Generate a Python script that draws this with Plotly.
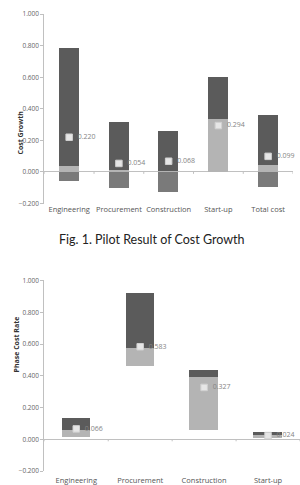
import plotly.graph_objects as go

# ---- Chart 1: Cost Growth ----
cats1 = ["Engineering", "Procurement", "Construction", "Start-up", "Total cost"]
low1 = [-0.060, -0.104, -0.127, 0.000, -0.097]
mid1 = [0.037, 0.012, 0.006, 0.335, 0.041]
high1 = [0.784, 0.317, 0.258, 0.600, 0.358]
mean1 = [0.220, 0.054, 0.068, 0.294, 0.099]

# ---- Chart 2: Phase Cost Rate ----
cats2 = ["Engineering", "Procurement", "Construction", "Start-up"]
low2 = [0.010, 0.461, 0.056, 0.010]
mid2 = [0.053, 0.570, 0.389, 0.022]
high2 = [0.131, 0.920, 0.436, 0.045]
mean2 = [0.066, 0.583, 0.327, 0.024]

yticks = [-0.2, 0.0, 0.2, 0.4, 0.6, 0.8, 1.0]

DARK = "#5b5b5b"
LIGHT = "#b4b4b4"
NEG = "#7a7a7a"
AXIS = "#c0c0c0"
FONT = "Open Sans"

W, H = 300, 485

fig = go.Figure()

def add_chart(cats, low, mid, high, mean, xa, ya, width, neg_mode):
    xs = list(range(len(cats)))
    if neg_mode:
        # below zero part
        fig.add_trace(go.Bar(x=xs, y=[min(l, 0) * -1 for l in low], base=[min(l, 0) for l in low],
                             marker=dict(color=NEG, line=dict(width=0)), width=width,
                             xaxis=xa, yaxis=ya, showlegend=False, hoverinfo="skip"))
        lb = [0.0] * len(cats)
    else:
        lb = low
    fig.add_trace(go.Bar(x=xs, y=[m - b for m, b in zip(mid, lb)], base=lb,
                         marker=dict(color=LIGHT, line=dict(width=0)), width=width,
                         xaxis=xa, yaxis=ya, showlegend=False, hoverinfo="skip"))
    fig.add_trace(go.Bar(x=xs, y=[h - m for h, m in zip(high, mid)], base=mid,
                         marker=dict(color=DARK, line=dict(width=0)), width=width,
                         xaxis=xa, yaxis=ya, showlegend=False, hoverinfo="skip"))
    # zero-line tick marks at category boundaries
    tx, ty = [], []
    for i in range(len(cats) + 1):
        tx += [i - 0.5, i - 0.5, None]
        ty += [0.0, -0.012, None]
    fig.add_trace(go.Scatter(x=tx, y=ty, mode="lines", line=dict(color=AXIS, width=1),
                             xaxis=xa, yaxis=ya, showlegend=False, hoverinfo="skip"))
    fig.add_trace(go.Scatter(x=xs, y=mean, mode="markers+text", cliponaxis=False,
                             text=[f"{v:.3f}" for v in mean], texttemplate="\u2002%{text}",
                             textposition="middle right",
                             textfont=dict(size=7, color="#858585", family=FONT),
                             marker=dict(symbol="square", size=6.5, color="#e6e6e6",
                                         line=dict(color="#d0d0d0", width=1)),
                             xaxis=xa, yaxis=ya, showlegend=False, hoverinfo="skip"))

add_chart(cats1, low1, mid1, high1, mean1, "x", "y", 0.40, True)
add_chart(cats2, low2, mid2, high2, mean2, "x2", "y2", 0.45, False)

def ydom(top_px, bot_px):
    return [1 - bot_px / H, 1 - top_px / H]

axis_common_y = dict(range=[-0.2, 1.0], tickvals=yticks, tickformat=".3f",
                     showgrid=False, zeroline=True, zerolinecolor=AXIS, zerolinewidth=1,
                     showline=True, linecolor=AXIS, linewidth=1,
                     ticks="outside", ticklen=3, tickcolor=AXIS,
                     tickfont=dict(size=6.5, color="#666666", family=FONT))

fig.update_layout(
    width=W, height=H, margin=dict(l=0, r=0, t=0, b=0),
    paper_bgcolor="white", plot_bgcolor="white", barmode="overlay", bargap=0,
    xaxis=dict(domain=[44.3 / W, 293.0 / W], range=[-0.5, len(cats1) - 0.5], anchor="y",
               tickvals=list(range(len(cats1))), ticktext=cats1, showgrid=False,
               zeroline=False, showline=False, ticks="",
               tickfont=dict(size=7.5, color="#555555", family=FONT)),
    yaxis=dict(domain=ydom(9.3, 202.3), anchor="x", **axis_common_y),
    xaxis2=dict(domain=[44.3 / W, 300.0 / W], range=[-0.5, len(cats2) - 0.5], anchor="y2",
                tickvals=list(range(len(cats2))), ticktext=cats2, showgrid=False,
                zeroline=False, showline=False, ticks="", ticklabelstandoff=3,
                tickfont=dict(size=7.5, color="#555555", family=FONT)),
    yaxis2=dict(domain=ydom(280.7, 475.0), anchor="x2", **axis_common_y),
    annotations=[
        dict(text="<b>Cost Growth</b>", textangle=-90, x=14 / W, y=1 - 106 / H,
             xref="paper", yref="paper", showarrow=False,
             font=dict(size=7, color="#333333", family=FONT)),
        dict(text="<b>Phase Cost Rate</b>", textangle=-90, x=10 / W, y=1 - 377 / H,
             xref="paper", yref="paper", showarrow=False,
             font=dict(size=7, color="#333333", family=FONT)),
        dict(text="Fig. 1. Pilot Result of Cost Growth", x=152 / W, y=1 - 239 / H,
             xref="paper", yref="paper", showarrow=False,
             font=dict(size=12.5, color="#222222", family="Lato")),
    ],
)

fig.write_html("out.html")
